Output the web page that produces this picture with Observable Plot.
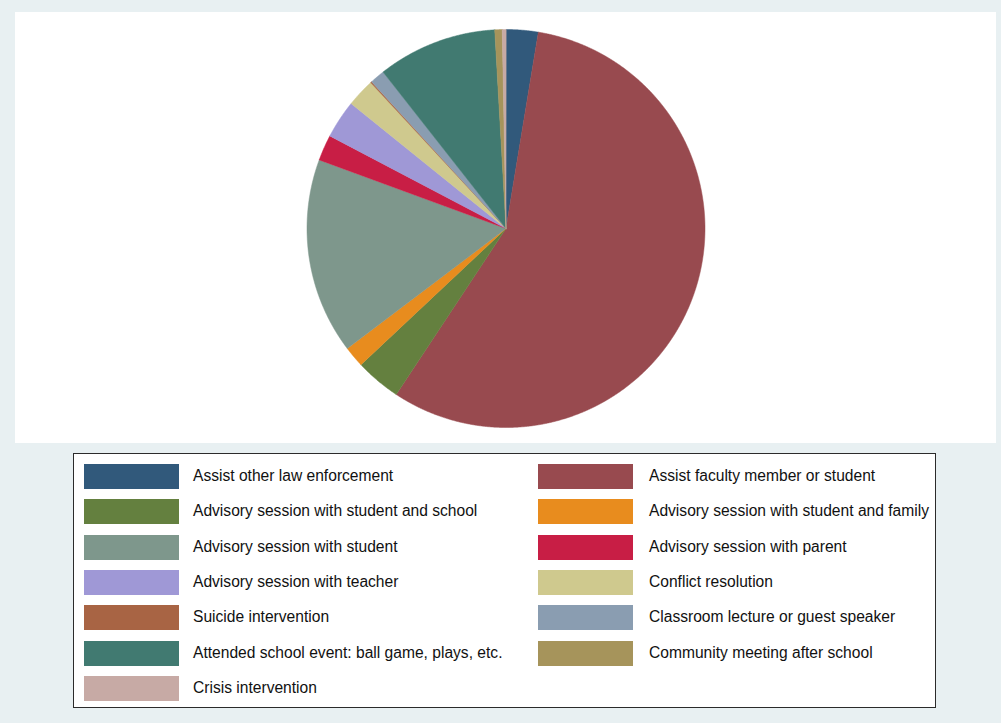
<!DOCTYPE html>
<html>
<head>
<meta charset="utf-8">
<script src="https://cdn.jsdelivr.net/npm/d3@7"></script>
<script src="https://cdn.jsdelivr.net/npm/@observablehq/plot@0.6"></script>
<style>
  html, body { margin: 0; padding: 0; }
  body { width: 1001px; height: 723px; background: #e8f0f2; position: relative; overflow: hidden;
         font-family: "Liberation Sans", Arial, sans-serif; }
  #plotregion { position: absolute; left: 15px; top: 12px; width: 981px; height: 431px; background: #ffffff; }
  #legend { position: absolute; left: 73px; top: 453px; width: 863px; height: 255px; background: #ffffff;
            border: 1px solid #2b2b2b; box-sizing: border-box; }
  .sw { position: absolute; width: 95px; height: 25px; }
  .lb { position: absolute; font-size: 15.6px; color: #111; line-height: 25px; white-space: nowrap; }
</style>
</head>
<body>
<div id="plotregion"></div>
<div id="legend"></div>
<script>
const categories = [
  "Assist other law enforcement",
  "Assist faculty member or student",
  "Advisory session with student and school",
  "Advisory session with student and family",
  "Advisory session with student",
  "Advisory session with parent",
  "Advisory session with teacher",
  "Conflict resolution",
  "Suicide intervention",
  "Classroom lecture or guest speaker",
  "Attended school event: ball game, plays, etc.",
  "Community meeting after school",
  "Crisis intervention"
];
const values = [2.6, 56.7, 3.7, 1.7, 15.9, 2.1, 3.1, 2.3, 0.1, 1.2, 9.7, 0.6, 0.3];
const colors = ["#31597b", "#984a4f", "#64803f", "#e88c1e", "#7e978c", "#c81e45", "#9f98d6",
                "#cfc98e", "#a86444", "#8a9db1", "#417a71", "#a6945b", "#c7aaa5"];

const table = categories.map((name, i) => ({name, value: values[i]}));
const arcs = d3.pie().sort(null).value(d => d.value)(table);

// polygon points for each slice in unit-circle data space
const points = [];
for (const a of arcs) {
  const name = a.data.name;
  points.push({name, x: 0, y: 0});
  const n = Math.max(2, Math.ceil((a.endAngle - a.startAngle) / 0.004));
  for (let k = 0; k <= n; k++) {
    const t = a.startAngle + (a.endAngle - a.startAngle) * k / n;
    points.push({name, x: Math.sin(t), y: Math.cos(t)});
  }
}

const W = 981, H = 431, cx = 490.5, cy = 216, R = 199;
const chart = Plot.plot({
  width: W, height: H,
  margin: 0,
  style: {background: "transparent"},
  x: {domain: [-1, 1], range: [cx - R, cx + R], axis: null},
  y: {domain: [-1, 1], range: [cy + R, cy - R], axis: null},
  color: {domain: categories, range: colors},
  marks: [
    Plot.line(points, {x: "x", y: "y", z: "name", fill: "name", stroke: "name",
                       strokeWidth: 0.5, curve: "linear-closed"})
  ]
});
document.getElementById("plotregion").appendChild(chart);

// legend: two columns, row-major
const legend = document.getElementById("legend");
categories.forEach((name, i) => {
  const col = i % 2, row = Math.floor(i / 2);
  const top = 10 + row * 35.3;
  const sw = document.createElement("div");
  sw.className = "sw";
  sw.style.left = (col === 0 ? 10 : 464) + "px";
  sw.style.top = top + "px";
  sw.style.background = colors[i];
  legend.appendChild(sw);
  const lb = document.createElement("div");
  lb.className = "lb";
  lb.style.left = (col === 0 ? 119 : 575) + "px";
  lb.style.top = (top - 1) + "px";
  lb.textContent = name;
  legend.appendChild(lb);
});
</script>
</body>
</html>
